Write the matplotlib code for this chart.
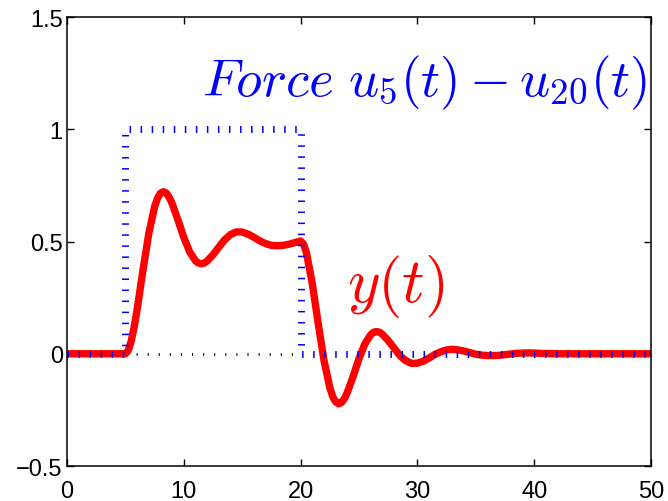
import numpy as np
import matplotlib
matplotlib.use('Agg')
import matplotlib.pyplot as plt

plt.rcParams['font.family'] = ['Liberation Sans', 'DejaVu Sans']
plt.rcParams['mathtext.fontset'] = 'cm'

# force u5(t) - u20(t)
force_t = [0, 5, 5, 20, 20, 50]
force_u = [0, 0, 1, 1, 0, 0]

# response y(t)
t = [0, 5, 5.25, 5.5, 5.75, 6, 6.5, 7, 7.5, 7.75, 8, 8.25, 8.5, 8.75, 9,
     9.5, 10, 10.5, 11, 11.25, 11.5, 11.75, 12, 12.5, 13, 13.5, 14, 14.5,
     15, 15.5, 16, 16.5, 17, 17.5, 18, 18.5, 19, 19.5, 20, 20.25, 20.5, 21,
     21.5, 22, 22.5, 22.75, 23, 23.25, 23.5, 23.75, 24, 24.5, 25, 25.5, 26,
     26.25, 26.5, 26.75, 27, 27.5, 28, 28.5, 29, 29.5, 30, 30.5, 31, 31.5,
     32, 32.5, 33, 33.5, 34, 34.5, 35, 35.5, 36, 36.5, 37, 37.5, 38, 38.5,
     39, 39.5, 40, 40.5, 41, 42, 50]
y = [0, 0, 0.015, 0.057, 0.119, 0.196, 0.371, 0.535, 0.655, 0.693, 0.715,
     0.722, 0.716, 0.697, 0.669, 0.596, 0.518, 0.454, 0.414, 0.404, 0.401,
     0.404, 0.413, 0.441, 0.475, 0.508, 0.531, 0.543, 0.542, 0.533, 0.519,
     0.503, 0.491, 0.483, 0.481, 0.483, 0.488, 0.495, 0.502, 0.489, 0.450,
     0.312, 0.137, -0.029, -0.151, -0.191, -0.214, -0.223, -0.217, -0.200,
     -0.172, -0.100, -0.021, 0.044, 0.085, 0.096, 0.099, 0.096, 0.087,
     0.059, 0.025, -0.008, -0.031, -0.043, -0.042, -0.033, -0.019, -0.003,
     0.009, 0.017, 0.020, 0.017, 0.012, 0.005, -0.002, -0.006, -0.008,
     -0.008, -0.007, -0.004, -0.001, 0.002, 0.003, 0.004, 0.003, 0.002,
     0.001, 0, 0]

fig = plt.figure(figsize=(6.68, 5.02), dpi=100)
ax = fig.add_axes([0.1003, 0.0697, 0.8743, 0.8944])

# black dotted zero line under the pulse
ax.plot([5, 20], [0, 0], color='k', lw=2.2, linestyle=(0, (0.33, 3.3)),
        dash_capstyle='butt')
ax.plot(t, y, color='r', lw=5.3, solid_joinstyle='round',
        solid_capstyle='butt')
ax.plot(force_t, force_u, color='b', lw=5, linestyle=(0, (0.22, 1.37)),
        dash_capstyle='butt')

ax.text(11.6, 1.15, r'$Force\ u_5(t)-u_{20}(t)$', color='b', fontsize=38)
ax.text(24.0, 0.235, r'$y(t)$', color='r', fontsize=45)

ax.set_xlim(0, 50)
ax.set_ylim(-0.5, 1.5)
ax.set_xticks([0, 10, 20, 30, 40, 50])
ax.set_yticks([-0.5, 0, 0.5, 1, 1.5])
ax.set_yticklabels(['\u22120.5', '0', '0.5', '1', '1.5'])
ax.tick_params(direction='in', length=5, width=1, labelsize=17,
               top=True, right=True, pad=3)
ax.tick_params(axis='x', pad=10)
for s in ax.spines.values():
    s.set_linewidth(1.1)

fig.savefig('out.png', dpi=100)
